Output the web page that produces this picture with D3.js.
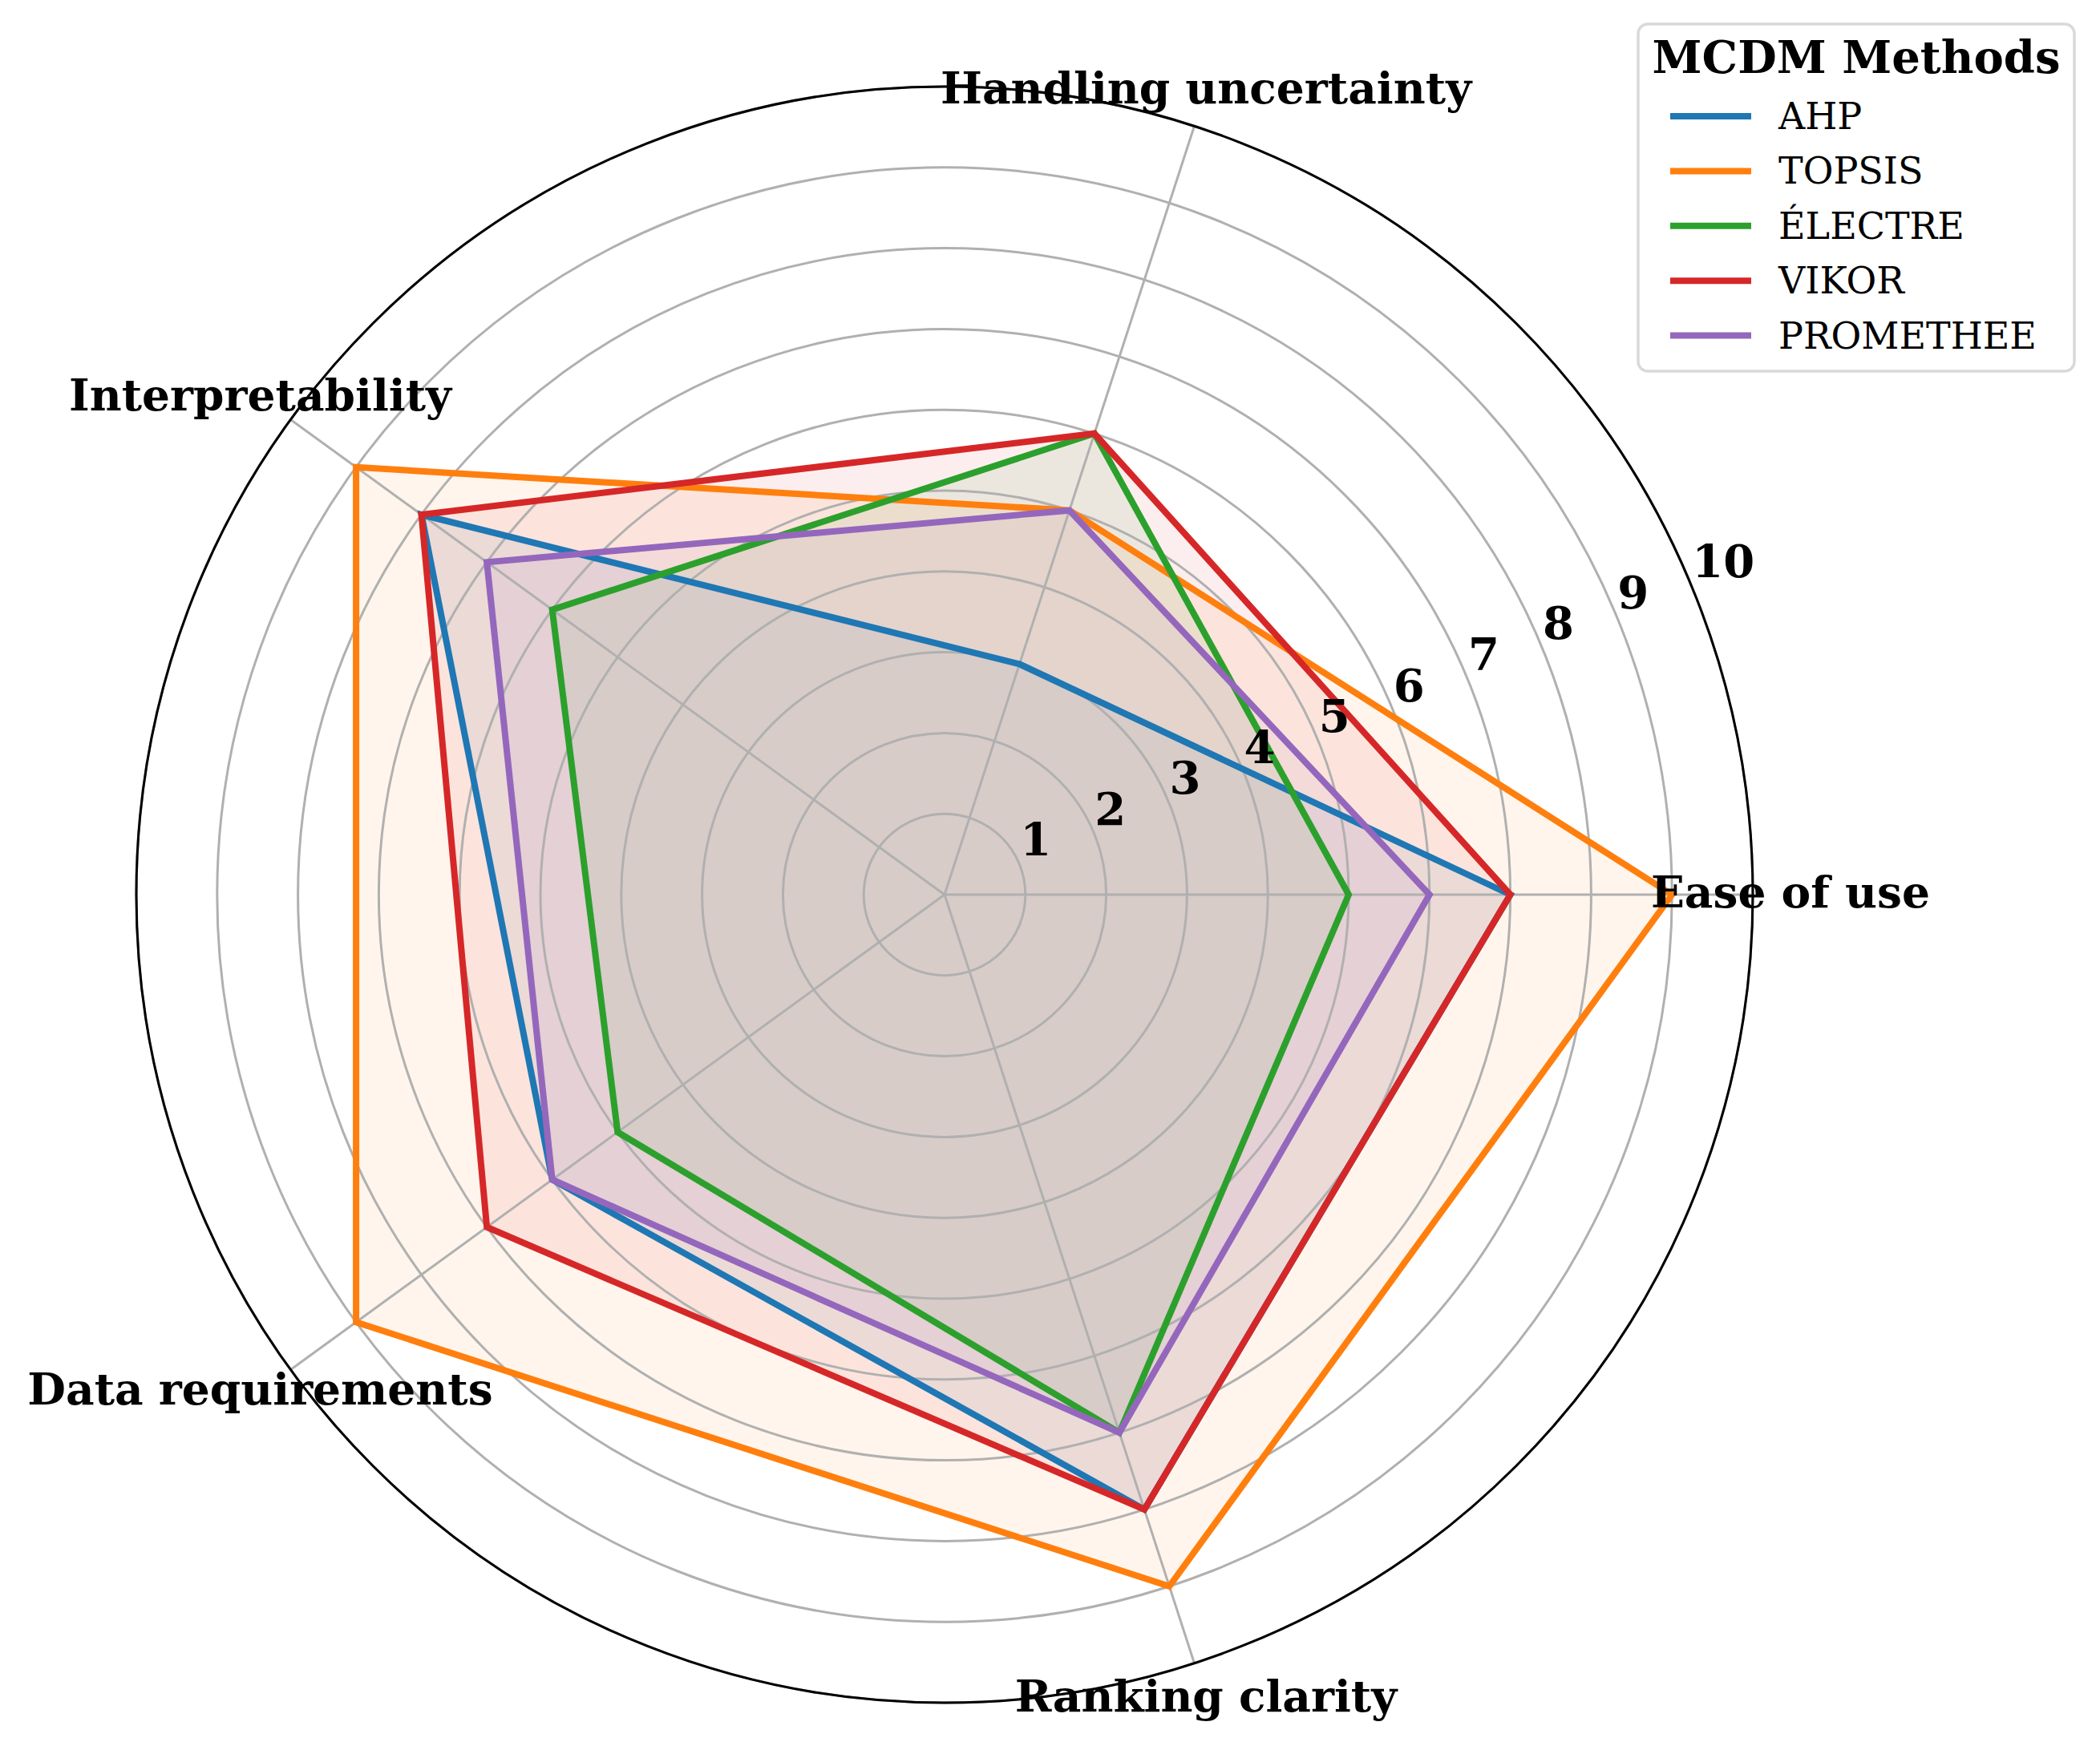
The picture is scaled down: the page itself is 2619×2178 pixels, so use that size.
<!DOCTYPE html>
<html>
<head>
<meta charset="utf-8">
<script src="https://cdn.jsdelivr.net/npm/d3@7"></script>
<style>
  body { margin: 0; background: #fff; }
  svg { display: block; font-family: "DejaVu Serif", serif; }
</style>
</head>
<body>
<div id="chart"></div>
<script>
// criteria around the radar, counter-clockwise from east
var categories = ['Ease of use', 'Handling uncertainty', 'Interpretability', 'Data requirements', 'Ranking clarity'];
var methods = ['AHP', 'TOPSIS', 'ÉLECTRE', 'VIKOR', 'PROMETHEE'];
var ahp       = [7, 3, 8, 6, 8];
var topsis    = [9, 5, 9, 9, 9];
var electre   = [5, 6, 6, 5, 7];
var vikor     = [7, 6, 8, 7, 8];
var promethee = [6, 5, 7, 6, 7];
var rTicks = [1, 2, 3, 4, 5, 6, 7, 8, 9, 10];
var colors = ['#1f77b4', '#ff7f0e', '#2ca02c', '#d62728', '#9467bd'];

var series = [ahp, topsis, electre, vikor, promethee];

var W = 2619, H = 2178;
var cx = 1178, cy = 1116;

var svg = d3.select('#chart').append('svg')
    .attr('width', W)
    .attr('height', H);

var r = d3.scaleLinear().domain([0, 10]).range([0, 1008]);
// matplotlib angle (ccw from east) for each category
var theta = d3.scaleLinear().domain([0, categories.length]).range([0, 2 * Math.PI]);
// d3 radial angle is clockwise from north
function ang(i) { return Math.PI / 2 - theta(i); }

var g = svg.append('g').attr('transform', 'translate(' + cx + ',' + cy + ')');

var radar = d3.lineRadial()
    .angle(function(d, i) { return ang(i); })
    .radius(function(d) { return r(d); })
    .curve(d3.curveLinearClosed);

// fills first
g.selectAll('path.fill')
    .data(series)
    .enter().append('path')
    .attr('class', 'fill')
    .attr('d', radar)
    .attr('fill', function(d, i) { return colors[i]; })
    .attr('fill-opacity', 0.08)
    .attr('stroke', 'none');

// grid rings
g.selectAll('circle.ring')
    .data(rTicks)
    .enter().append('circle')
    .attr('class', 'ring')
    .attr('r', function(d) { return r(d); })
    .attr('fill', 'none')
    .attr('stroke', '#b0b0b0')
    .attr('stroke-width', 3);

// spokes
g.selectAll('line.spoke')
    .data(categories)
    .enter().append('line')
    .attr('class', 'spoke')
    .attr('x1', 0).attr('y1', 0)
    .attr('x2', function(d, i) { return r(10) * Math.cos(theta(i)); })
    .attr('y2', function(d, i) { return -r(10) * Math.sin(theta(i)); })
    .attr('stroke', '#b0b0b0')
    .attr('stroke-width', 3);

// outer spine
g.append('circle')
    .attr('r', r(10))
    .attr('fill', 'none')
    .attr('stroke', '#000')
    .attr('stroke-width', 3);

// series outlines
g.selectAll('path.line')
    .data(series)
    .enter().append('path')
    .attr('class', 'line')
    .attr('d', radar)
    .attr('fill', 'none')
    .attr('stroke', function(d, i) { return colors[i]; })
    .attr('stroke-width', 8)
    .attr('stroke-linejoin', 'miter');

// radial tick labels at 22.5 deg
var labAng = 22.5 * Math.PI / 180;
g.selectAll('text.rtick')
    .data(rTicks)
    .enter().append('text')
    .attr('class', 'rtick')
    .attr('x', function(d) { return r(d) * Math.cos(labAng) + 1; })
    .attr('y', function(d) { return -r(d) * Math.sin(labAng) - 10; })
    .attr('font-size', 56)
    .attr('font-weight', 'bold')
    .attr('text-anchor', 'start')
    .text(function(d) { return d; });

// category labels
g.selectAll('text.cat')
    .data(categories)
    .enter().append('text')
    .attr('class', 'cat')
    .attr('x', function(d, i) { return 1055 * Math.cos(theta(i)); })
    .attr('y', function(d, i) { return -1055 * Math.sin(theta(i)) + 16; })
    .attr('font-size', 55)
    .attr('font-weight', 'bold')
    .attr('text-anchor', 'middle')
    .text(function(d) { return d; });

// legend
var leg = svg.append('g');
leg.append('rect')
    .attr('x', 2043).attr('y', 30)
    .attr('width', 544).attr('height', 433)
    .attr('rx', 12).attr('ry', 12)
    .attr('fill', '#fff')
    .attr('fill-opacity', 0.8)
    .attr('stroke', '#d9d9d9')
    .attr('stroke-width', 3.5);

leg.append('text')
    .attr('x', 2315).attr('y', 91)
    .attr('text-anchor', 'middle')
    .attr('font-size', 56)
    .attr('font-weight', 'bold')
    .text('MCDM Methods');

var item = leg.selectAll('g.item')
    .data(methods)
    .enter().append('g')
    .attr('class', 'item')
    .attr('transform', function(d, i) { return 'translate(0,' + (145 + i * 68.4) + ')'; });

item.append('line')
    .attr('x1', 2083).attr('x2', 2184)
    .attr('y1', 0).attr('y2', 0)
    .attr('stroke', function(d, i) { return colors[i]; })
    .attr('stroke-width', 8);

item.append('text')
    .attr('x', 2218).attr('y', 16)
    .attr('font-size', 46)
    .text(function(d) { return d; });
</script>
</body>
</html>
